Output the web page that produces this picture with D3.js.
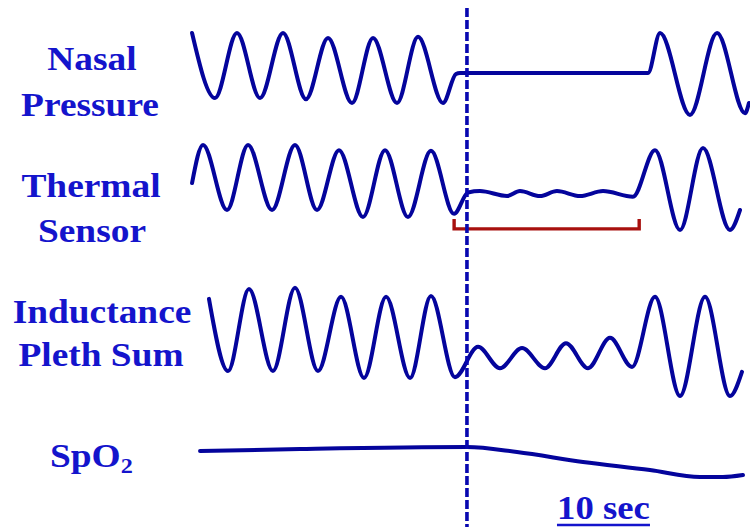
<!DOCTYPE html>
<html>
<head>
<meta charset="utf-8">
<script src="https://cdn.jsdelivr.net/npm/d3@7"></script>
<style>
  html, body { margin: 0; padding: 0; background: #ffffff; }
  svg { display: block; }
</style>
</head>
<body>
<svg id="chart" width="750" height="530"></svg>
<script>
// ---------------- DATA ----------------
// time in seconds, amplitude in arbitrary units (SpO2 in %)
const nasalTime  = [0.22, 2.69, 5.05, 7.53, 10.0, 12.47, 14.84, 17.42, 19.68, 22.26, 24.52, 27.2, 28.6, 29.03, 49.25, 50.54, 53.76, 56.67, 59.68, 60.1];
const nasalValue = [1.0, -0.86, 1.0, -0.86, 1.0, -0.89, 0.86, -1.0, 0.86, -1.0, 0.89, -1.0, -0.17, -0.14, -0.14, 1.0, -1.34, 1.0, -1.29, -1.0];

const thermalTime  = [0.22, 1.4, 3.98, 6.24, 8.82, 11.29, 13.66, 16.02, 18.6, 20.97, 23.44, 25.91, 28.39, 29.9, 31.18, 34.09, 35.48, 37.63, 39.46, 41.94, 44.41, 47.63, 50.0, 52.69, 55.16, 58.06, 59.14];
const thermalValue = [-0.03, 1.06, -0.8, 1.06, -0.8, 1.06, -0.8, 0.91, -1.0, 0.91, -1.0, 0.89, -0.91, -0.3, -0.26, -0.4, -0.26, -0.4, -0.26, -0.4, -0.26, -0.42, 0.91, -1.37, 0.97, -1.37, -0.8];

const rippleTime  = [2.04, 4.09, 6.34, 8.92, 11.29, 13.76, 16.24, 18.71, 21.08, 23.66, 25.91, 28.49, 30.97, 33.33, 35.7, 38.17, 40.43, 42.8, 45.16, 47.53, 50.0, 52.69, 55.38, 58.06, 59.35];
const rippleValue = [0.93, -0.83, 1.17, -0.83, 1.2, -0.83, 0.98, -1.0, 0.98, -1.0, 1.0, -0.98, -0.24, -0.76, -0.27, -0.76, -0.15, -0.76, -0.02, -0.73, 0.98, -1.44, 0.98, -1.44, -0.85];

const spo2Time  = [1.08, 11.83, 29.78, 35.16, 42.26, 49.46, 54.84, 57.3, 59.46];
const spo2Value = [94.2, 94.6, 95.0, 94.0, 92.0, 90.4, 89.0, 89.0, 89.4];

const eventOnset = 29.78;            // dashed vertical marker (s)
const apneaSpan  = [28.4, 48.3];     // red bracket under thermal sensor (s)
const scaleBar   = [39.46, 49.46];   // 10-second scale bar (s)
const scaleBarLabel = "10 sec";

const labels = [
  ["Nasal", "Pressure"],
  ["Thermal", "Sensor"],
  ["Inductance", "Pleth Sum"]
];

// ---------------- DRAWING ----------------
const svg = d3.select("#chart");
const lineColor = "#04049c";
const textColor = "#1414cc";

const x = d3.scaleLinear().domain([0, 60]).range([190, 748]);

const yNasal   = d3.scaleLinear().domain([-1, 1]).range([103, 33]);
const yThermal = d3.scaleLinear().domain([-1, 1]).range([217, 147]);
const yRipple  = d3.scaleLinear().domain([-1, 1]).range([378, 296]);
const ySpo2    = d3.scaleLinear().domain([85, 100]).range([497, 422]);

function trace(times, values, yScale, curve) {
  const pts = times.map((t, i) => [t, values[i]]);
  const gen = d3.line()
    .x(d => x(d[0]))
    .y(d => yScale(d[1]))
    .curve(curve || d3.curveMonotoneX);
  svg.append("path")
    .attr("d", gen(pts))
    .attr("fill", "none")
    .attr("stroke", lineColor)
    .attr("stroke-width", 4)
    .attr("stroke-linejoin", "round")
    .attr("stroke-linecap", "round");
}

// red apnea bracket
const bTop = yThermal(-1.06), bBot = yThermal(-1.34);
svg.append("path")
  .attr("d", d3.line()([
    [x(apneaSpan[0]), bTop], [x(apneaSpan[0]), bBot],
    [x(apneaSpan[1]), bBot], [x(apneaSpan[1]), bTop]
  ]))
  .attr("fill", "none")
  .attr("stroke", "#a8100e")
  .attr("stroke-width", 3.4);

trace(nasalTime, nasalValue, yNasal);
trace(thermalTime, thermalValue, yThermal);
trace(rippleTime, rippleValue, yRipple);
trace(spo2Time, spo2Value, ySpo2);

// dashed onset line
svg.append("line")
  .attr("x1", x(eventOnset)).attr("x2", x(eventOnset))
  .attr("y1", 8).attr("y2", 527)
  .attr("stroke", "#0808b0")
  .attr("stroke-width", 3.6)
  .attr("stroke-dasharray", "9,3");

// labels
const font = "'Liberation Serif', 'Times New Roman', serif";
const labelPos = [
  [[92, 70], [90, 116]],
  [[91, 197], [92, 242]],
  [[102, 323], [101, 366]]
];
labels.forEach((pair, i) => {
  pair.forEach((txt, j) => {
    const [cx, by] = labelPos[i][j];
    svg.append("text")
      .attr("transform", `translate(${cx},${by}) scale(1.1,1)`)
      .attr("text-anchor", "middle")
      .attr("font-family", font)
      .attr("font-weight", "bold")
      .attr("font-size", 34)
      .attr("fill", textColor)
      .text(txt);
  });
});

// SpO2 label with subscript
const sp = svg.append("text")
  .attr("transform", `translate(50,467) scale(1.1,1)`)
  .attr("font-family", font)
  .attr("font-weight", "bold")
  .attr("font-size", 34)
  .attr("fill", textColor);
sp.append("tspan").text("SpO");
sp.append("tspan").attr("font-size", 22).attr("dy", 6).text("2");

// 10 sec scale bar
svg.append("text")
  .attr("transform", `translate(${(x(scaleBar[0]) + x(scaleBar[1])) / 2},519) scale(1.08,1)`)
  .attr("text-anchor", "middle")
  .attr("font-family", font)
  .attr("font-weight", "bold")
  .attr("font-size", 34)
  .attr("fill", textColor)
  .text(scaleBarLabel);
svg.append("line")
  .attr("x1", x(scaleBar[0])).attr("x2", x(scaleBar[1]))
  .attr("y1", 525).attr("y2", 525)
  .attr("stroke", textColor)
  .attr("stroke-width", 2.5);
</script>
</body>
</html>
